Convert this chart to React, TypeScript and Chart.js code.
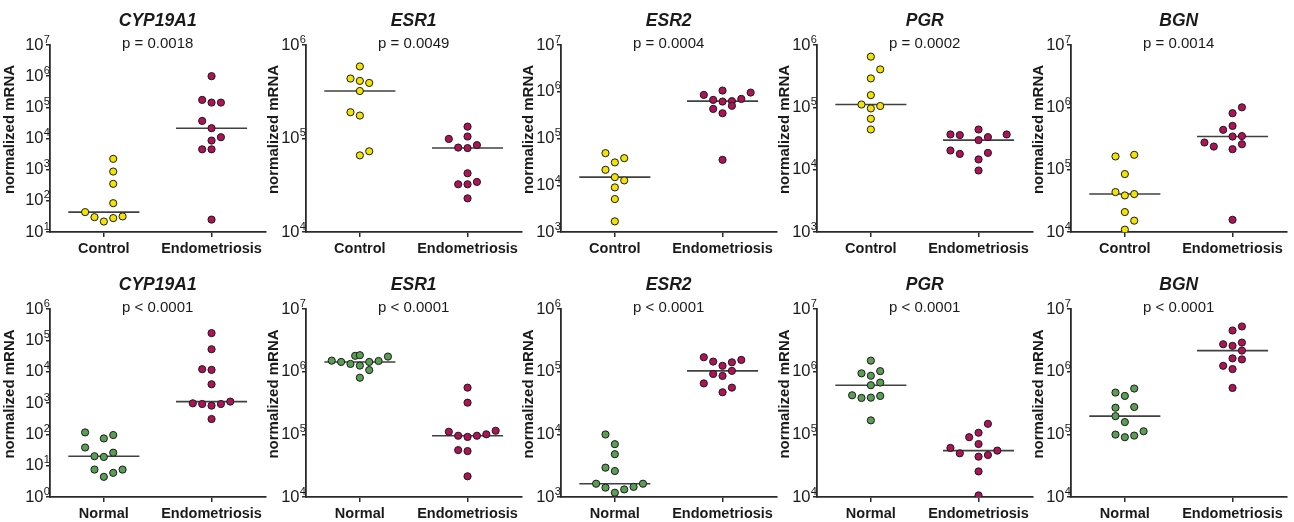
import React, { useEffect, useRef } from 'react';
import { Chart, registerables } from 'chart.js';

Chart.register(...registerables);

const FONT = '"Liberation Sans", Arial, "DejaVu Sans", sans-serif';

// ---------- categories, titles, tick labels ----------
const genes = ['CYP19A1', 'ESR1', 'ESR2', 'PGR', 'BGN'];
const topGroups = ['Control', 'Endometriosis'];
const bottomGroups = ['Normal', 'Endometriosis'];
const topPValues = ['p = 0.0018', 'p = 0.0049', 'p = 0.0004', 'p = 0.0002', 'p = 0.0014'];
const bottomPValues = ['p < 0.0001', 'p < 0.0001', 'p < 0.0001', 'p < 0.0001', 'p < 0.0001'];
const yAxisTitle = 'normalized mRNA';
const tickBase = '10';
const tickExponents = ['0', '1', '2', '3', '4', '5', '6', '7'];
// decade ranges [lowest exponent, highest exponent]
const topRanges = [[1, 7], [4, 6], [3, 7], [3, 6], [4, 7]];
const bottomRanges = [[0, 6], [4, 7], [3, 6], [4, 7], [4, 7]];

// ---------- values (normalized mRNA) and column-scatter slots ----------
// Top row: Control vs Endometriosis
const topCyp19a1Control = [2220, 870, 351, 84, 43.5, 30, 21.7, 27.9, 31.6];
const topCyp19a1ControlSlots = [1, 1, 1, 1, -2, -1, 0, 1, 2];
const topCyp19a1Endo = [1.0e6, 1.73e5, 1.42e5, 1.42e5, 3.66e4, 2.14e4, 1.1e4, 8.6e3, 4.5e3, 4.5e3, 25];
const topCyp19a1EndoSlots = [0, -1, 0, 1, -1, 0, 1, 0, -1, 0, 0];

const topEsr1Control = [5.9e5, 4.38e5, 4.13e5, 3.93e5, 3.22e5, 1.91e5, 1.76e5, 6.6e4, 7.3e4];
const topEsr1ControlSlots = [0, -1, 0, 1, 0, -1, 0, 0, 1];
const topEsr1Endo = [1.34e5, 9.9e4, 1.05e5, 8.0e4, 7.9e4, 8.5e4, 4.25e4, 3.24e4, 3.24e4, 3.43e4, 2.29e4];
const topEsr1EndoSlots = [0, -2, 0, -1, 0, 1, 0, -1, 0, 1, 0];

const topEsr2Control = [4.86e4, 3.8e4, 3.08e4, 2.14e4, 1.49e4, 1.27e4, 9.0e3, 5.07e3, 1.69e3];
const topEsr2ControlSlots = [-1, 1, 0, -1, 0, 1, 0, 0, 0];
const topEsr2Endo = [8.56e5, 1.06e6, 9.6e5, 6.7e5, 6.17e5, 6.3e5, 7.03e5, 4.3e5, 4.99e5, 3.47e5, 3.5e4];
const topEsr2EndoSlots = [-2, 0, 3, -1, 0, 1, 2, -1, 1, 0, 0];

const topPgrControl = [6.5e5, 4.06e5, 2.91e5, 1.57e5, 1.11e5, 9.6e4, 1.05e5, 6.55e4, 4.41e4];
const topPgrControlSlots = [0, 1, 0, 0, -1, 0, 1, 0, 0];
const topPgrEndo = [3.67e4, 3.59e4, 4.41e4, 3.33e4, 3.67e4, 2.98e4, 2.03e4, 1.79e4, 1.86e4, 1.46e4, 9.7e3];
const topPgrEndoSlots = [-3, -2, 0, 1, 3, 0, -3, -2, 1, 0, 0];

const topBgnControl = [1.63e5, 1.73e5, 8.5e4, 4.37e4, 3.86e4, 4.06e4, 2.09e4, 1.52e4, 1.09e4];
const topBgnControlSlots = [-1, 1, 0, -1, 0, 1, 0, 1, 0];
const topBgnEndo = [1.0e6, 8.05e5, 4.35e5, 5.04e5, 2.73e5, 2.35e5, 3.4e5, 3.46e5, 2.13e5, 2.56e5, 1.57e4];
const topBgnEndoSlots = [1, 0, -1, 0, -3, -2, 0, 1, 0, 1, 0];

// Bottom row: Normal vs Endometriosis
const bottomCyp19a1Normal = [115, 74, 95, 38, 20, 19, 26, 7.5, 7.5, 5.9, 4.4];
const bottomCyp19a1NormalSlots = [-2, 0, 1, -2, -1, 0, 1, -1, 2, 1, 0];
const bottomCyp19a1Endo = [1.7e5, 5.2e4, 1.2e4, 1.14e4, 3.97e3, 930, 824, 930, 1107, 977, 308];
const bottomCyp19a1EndoSlots = [0, 0, -1, 0, 0, -1, 0, 1, 2, -2, 0];

const bottomEsr1Normal = [1.5e6, 1.43e6, 1.33e6, 1.79e6, 1.83e6, 1.25e6, 1.43e6, 1.06e6, 1.48e6, 1.74e6, 8.0e5];
const bottomEsr1NormalSlots = [-3, -2, -1, -0.5, 0, 0, 1, 1, 2, 3, 0];
const bottomEsr1Endo = [5.56e5, 3.2e5, 1.1e5, 9.5e4, 9.1e4, 9.5e4, 1.0e5, 1.14e5, 5.6e4, 5.4e4, 2.14e4];
const bottomEsr1EndoSlots = [0, 0, -2, -1, 0, 1, 2, 3, -1, 0, 0];

const bottomEsr2Normal = [9.95e3, 6.97e3, 4.82e3, 2.94e3, 2.6e3, 1.63e3, 1.41e3, 1.17e3, 1.32e3, 1.45e3, 1.63e3];
const bottomEsr2NormalSlots = [-1, 0, 0, -1, 0, -2, -1, 0, 1, 2, 3];
const bottomEsr2Endo = [1.7e5, 1.45e5, 1.24e5, 1.41e5, 1.54e5, 9.2e4, 8.55e4, 1.03e5, 6.5e4, 5.56e4, 4.69e4];
const bottomEsr2EndoSlots = [-2, -1, 0, 1, 2, -1, 0, 1, -2, 1, 0];

const bottomPgrNormal = [1.5e6, 9.4e5, 8.6e5, 1.02e6, 6.7e5, 6.08e5, 4.2e5, 3.81e5, 3.85e5, 4.1e5, 1.67e5];
const bottomPgrNormalSlots = [0, -1, 0, 1, 1, 0, -2, -1, 0, 1, 0];
const bottomPgrEndo = [1.47e5, 9.0e4, 1.06e5, 6.07e4, 7.0e4, 4.98e4, 4.4e4, 4.68e4, 5.5e4, 2.56e4, 1.06e4];
const bottomPgrEndoSlots = [1, -1, 0, -3, 0, -2, 0, 1, 2, 0, 0];

const bottomBgnNormal = [4.64e5, 5.38e5, 4.1e5, 2.66e5, 2.73e5, 1.95e5, 1.57e5, 9.9e4, 9.0e4, 9.55e4, 1.12e5];
const bottomBgnNormalSlots = [-1, 1, 0, -1, 1, -1, 0, -1, 0, 1, 2];
const bottomBgnEndo = [5.26e6, 4.54e6, 2.74e6, 2.91e6, 2.58e6, 2.17e6, 1.63e6, 1.57e6, 1.24e6, 1.1e6, 5.5e5];
const bottomBgnEndoSlots = [1, 0, -1, 1, 0, 1, 0, 1, -1, 0, 0];

// ---------- styles / layout ----------
const YELLOW = '#f2e300';
const MAGENTA = '#b01259';
const GREEN = '#5a9e55';
const INK = '#1a1a1a';
const AXIS = '#2a2a2a';
const MEDIAN = '#404040';
const SLOT = 0.087; // category units between neighbouring dots
const MEDIAN_HALF = 0.33;
const CANVAS_W = 270;
const CANVAS_H = 261;
const AXIS_X = [50, 306, 561, 817, 1071];
const ROWS = [
  { top: 0, plotTop: 45, plotBottom: 232 },
  { top: 261, plotTop: 48, plotBottom: 236 },
];
const Y_TITLE_GAP = [40, 32.5, 32.5, 32.5, 32.5];
const Y_TICK_LEN = 4;
const Y_TICK_PAD = 2.5;

function median(values: number[]): number {
  const s = [...values].sort((a, b) => a - b);
  const n = s.length;
  return n % 2 ? s[(n - 1) / 2] : (s[n / 2 - 1] + s[n / 2]) / 2;
}

const panelTextPlugin = {
  id: 'panelText',
  afterDraw(chart: any, _args: any, opts: any) {
    const { ctx, chartArea } = chart;
    const cx = (chartArea.left + chartArea.right) / 2;
    ctx.save();
    ctx.fillStyle = INK;
    ctx.textAlign = 'center';
    ctx.textBaseline = 'alphabetic';
    ctx.font = `italic bold 17.5px ${FONT}`;
    ctx.fillText(opts.title, cx, chartArea.top - 19);
    ctx.font = `15px ${FONT}`;
    ctx.fillText(opts.pValue, cx, chartArea.top + 2.5);

    // exponents of the y tick labels (superscripts next to the axis' "10")
    const yScale = chart.scales.y;
    ctx.textAlign = 'left';
    ctx.font = `11px ${FONT}`;
    for (const t of yScale.ticks) {
      const py = yScale.getPixelForValue(t.value);
      const e = Math.round(Math.log10(t.value));
      ctx.fillText(tickExponents[e], chartArea.left - Y_TICK_LEN - Y_TICK_PAD + 0.3, py - 2.5);
    }

    ctx.translate(chartArea.left - opts.yTitleGap, (chartArea.top + chartArea.bottom) / 2 - 9);
    ctx.rotate(-Math.PI / 2);
    ctx.textAlign = 'center';
    ctx.font = `bold 15px ${FONT}`;
    ctx.textBaseline = 'middle';
    ctx.fillText(opts.yTitle, 0, 0);
    ctx.restore();
  },
};

type PanelProps = {
  title: string;
  pValue: string;
  groups: string[];
  colors: string[];
  values: number[][];
  slots: number[][];
  range: number[];
  col: number;
  row: number;
};

function Panel(p: PanelProps) {
  const ref = useRef<HTMLCanvasElement | null>(null);
  const rowGeo = ROWS[p.row];
  const left = AXIS_X[p.col] - 50;

  useEffect(() => {
    if (!ref.current) return;
    const [lo, hi] = p.range;
    const exps: number[] = [];
    for (let e = lo; e <= hi; e++) exps.push(e);

    const pointSets = p.values.map((vals, g) => ({
      data: vals.map((v, i) => ({ x: g + p.slots[g][i] * SLOT, y: v })),
      backgroundColor: p.colors[g],
      borderColor: INK,
      borderWidth: 1,
      pointRadius: 3.6,
      pointHoverRadius: 3.6,
      showLine: false,
      order: 1,
    }));
    const medianSets = p.values.map((vals, g) => {
      const m = median(vals);
      return {
        data: [
          { x: g - MEDIAN_HALF, y: m },
          { x: g + MEDIAN_HALF, y: m },
        ],
        borderColor: MEDIAN,
        borderWidth: 1.6,
        pointRadius: 0,
        showLine: true,
        order: 2,
      };
    });

    const chart = new Chart(ref.current, {
      type: 'scatter',
      data: { datasets: [...medianSets, ...pointSets] as any },
      options: {
        animation: false,
        responsive: false,
        maintainAspectRatio: false,
        events: [],
        layout: { padding: { top: rowGeo.plotTop, left: 0, right: 2, bottom: 0 } },
        plugins: {
          legend: { display: false },
          tooltip: { enabled: false },
          panelText: {
            title: p.title,
            pValue: p.pValue,
            yTitle: yAxisTitle,
            yTitleGap: Y_TITLE_GAP[p.col],
          },
        } as any,
        scales: {
          x: {
            type: 'linear',
            min: -0.5,
            max: 1.5,
            afterBuildTicks: (axis: any) => {
              axis.ticks = p.groups.map((_, i) => ({ value: i }));
            },
            afterFit: (axis: any) => {
              axis.height = CANVAS_H - rowGeo.plotBottom;
            },
            ticks: {
              autoSkip: false,
              maxRotation: 0,
              padding: 3.5,
              color: INK,
              font: { family: FONT, size: 14.5, weight: 'bold' },
              callback: (v: any) => p.groups[Math.round(Number(v))] ?? '',
            },
            grid: { drawOnChartArea: false, drawTicks: true, tickLength: 5, color: AXIS, lineWidth: 1.5 },
            border: { display: true, color: AXIS, width: 1.8 },
          },
          y: {
            type: 'logarithmic',
            min: Math.pow(10, lo),
            max: Math.pow(10, hi),
            afterBuildTicks: (axis: any) => {
              axis.ticks = exps.map((e) => ({ value: Math.pow(10, e) }));
            },
            afterFit: (axis: any) => {
              axis.width = 50;
            },
            ticks: {
              autoSkip: false,
              padding: Y_TICK_PAD,
              color: INK,
              font: { family: FONT, size: 16.5 },
              callback: () => tickBase,
            },
            grid: { drawOnChartArea: false, drawTicks: true, tickLength: Y_TICK_LEN, color: AXIS, lineWidth: 1.5 },
            border: { display: true, color: AXIS, width: 1.8 },
          },
        },
      } as any,
      plugins: [panelTextPlugin],
    });
    return () => chart.destroy();
  }, []);

  return (
    <canvas
      ref={ref}
      width={CANVAS_W}
      height={CANVAS_H}
      style={{ position: 'absolute', left, top: rowGeo.top, width: CANVAS_W, height: CANVAS_H }}
    />
  );
}

const topValues = [
  [topCyp19a1Control, topCyp19a1Endo],
  [topEsr1Control, topEsr1Endo],
  [topEsr2Control, topEsr2Endo],
  [topPgrControl, topPgrEndo],
  [topBgnControl, topBgnEndo],
];
const topSlots = [
  [topCyp19a1ControlSlots, topCyp19a1EndoSlots],
  [topEsr1ControlSlots, topEsr1EndoSlots],
  [topEsr2ControlSlots, topEsr2EndoSlots],
  [topPgrControlSlots, topPgrEndoSlots],
  [topBgnControlSlots, topBgnEndoSlots],
];
const bottomValues = [
  [bottomCyp19a1Normal, bottomCyp19a1Endo],
  [bottomEsr1Normal, bottomEsr1Endo],
  [bottomEsr2Normal, bottomEsr2Endo],
  [bottomPgrNormal, bottomPgrEndo],
  [bottomBgnNormal, bottomBgnEndo],
];
const bottomSlots = [
  [bottomCyp19a1NormalSlots, bottomCyp19a1EndoSlots],
  [bottomEsr1NormalSlots, bottomEsr1EndoSlots],
  [bottomEsr2NormalSlots, bottomEsr2EndoSlots],
  [bottomPgrNormalSlots, bottomPgrEndoSlots],
  [bottomBgnNormalSlots, bottomBgnEndoSlots],
];

export default function App() {
  Chart.defaults.font.family = FONT;
  return (
    <div style={{ position: 'absolute', left: 0, top: 0, width: 1294, height: 522, background: '#ffffff', overflow: 'hidden' }}>
      {genes.map((g, i) => (
        <Panel
          key={'t' + g}
          title={g}
          pValue={topPValues[i]}
          groups={topGroups}
          colors={[YELLOW, MAGENTA]}
          values={topValues[i]}
          slots={topSlots[i]}
          range={topRanges[i]}
          col={i}
          row={0}
        />
      ))}
      {genes.map((g, i) => (
        <Panel
          key={'b' + g}
          title={g}
          pValue={bottomPValues[i]}
          groups={bottomGroups}
          colors={[GREEN, MAGENTA]}
          values={bottomValues[i]}
          slots={bottomSlots[i]}
          range={bottomRanges[i]}
          col={i}
          row={1}
        />
      ))}
    </div>
  );
}
